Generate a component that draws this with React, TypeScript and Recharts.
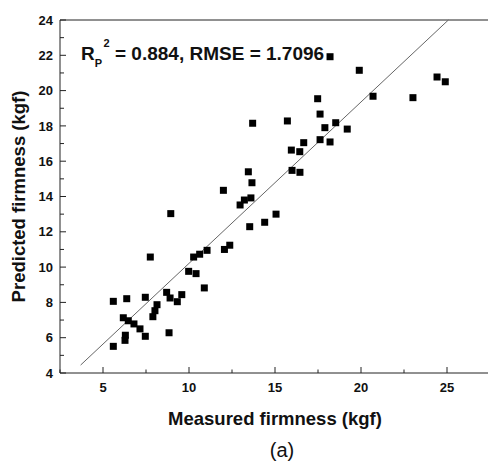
import { ScatterChart, Scatter, XAxis, YAxis, ReferenceLine } from 'recharts';

// measured vs predicted firmness (kgf)
const measured = [
  13.7, 13.45, 13.66, 12.0, 13.6, 13.22, 12.97, 15.06, 14.4, 13.53,
  8.94, 12.37, 12.06, 11.05, 10.62, 10.27, 7.75, 9.98, 10.41, 10.89,
  8.7, 8.9, 9.58, 9.32, 7.46, 6.38, 5.6, 8.14, 8.02, 7.9,
  6.18, 6.47, 6.8, 7.15, 7.46, 6.3, 6.28, 8.84, 5.6,
  18.2, 19.9, 24.42, 24.9, 20.7, 23.02, 17.48, 15.72, 17.62, 17.9,
  18.53, 19.2, 17.62, 18.2, 16.67, 15.95, 16.44, 15.99, 16.45,
];
const predicted = [
  18.15, 15.4, 14.78, 14.35, 13.92, 13.8, 13.52, 13.0, 12.54, 12.29,
  13.03, 11.24, 11.0, 10.95, 10.73, 10.57, 10.57, 9.76, 9.63, 8.82,
  8.57, 8.25, 8.44, 8.04, 8.29, 8.21, 8.06, 7.87, 7.53, 7.19,
  7.13, 6.96, 6.78, 6.5, 6.08, 6.14, 5.85, 6.28, 5.51,
  21.92, 21.15, 20.77, 20.5, 19.68, 19.6, 19.54, 18.28, 18.67, 17.9,
  18.18, 17.82, 17.22, 17.09, 17.05, 16.63, 16.54, 15.48, 15.37,
];

// regression line end points
const fitX = [3.7, 25.08];
const fitY = [4.45, 24];

const xTicks = [2.5, 5, 7.5, 10, 12.5, 15, 17.5, 20, 22.5, 25, 27.5];
const yTicks = [4, 5, 6, 7, 8, 9, 10, 11, 12, 13, 14, 15, 16, 17, 18, 19, 20, 21, 22, 23, 24];

const FONT = '"Liberation Sans", Arial, sans-serif';

const points = measured.map((m, i) => ({ measured: m, predicted: predicted[i] }));

const Square = (props: any) => (
  <rect x={props.cx - 3.5} y={props.cy - 3.5} width={7} height={7} fill="#000" />
);

const XTick = ({ x, y, payload }: any) => {
  const major = payload.value % 5 === 0;
  return (
    <g>
      <line x1={x} y1={y} x2={x} y2={y - (major ? 6 : 3.5)} stroke="#222" />
      {major && (
        <text x={x} y={y + 19} textAnchor="middle" fontSize={13} fontWeight="bold" fontFamily={FONT} fill="#111">
          {payload.value}
        </text>
      )}
    </g>
  );
};

const YTick = ({ x, y, payload }: any) => {
  const major = payload.value % 2 === 0;
  return (
    <g>
      <line x1={x} y1={y} x2={x + (major ? 6 : 4)} y2={y} stroke="#222" />
      {major && (
        <text x={x - 7} y={y} dy="0.36em" textAnchor="end" fontSize={13} fontWeight="bold" fontFamily={FONT} fill="#111">
          {payload.value}
        </text>
      )}
    </g>
  );
};

export default function App() {
  return (
    <div style={{ position: 'absolute', left: 0, top: 0, width: 488, height: 465, overflow: 'hidden', background: '#fff' }}>
      <ScatterChart width={500} height={465} margin={{ top: 20, right: 10, bottom: 62, left: 0 }}>
        <XAxis
          type="number"
          dataKey="measured"
          domain={[2.5, 27.5]}
          ticks={xTicks}
          interval={0}
          tickSize={0}
          tickMargin={0}
          tickLine={false}
          tick={<XTick />}
          height={30}
          axisLine={{ stroke: '#222' }}
          label={{
            value: 'Measured firmness (kgf)',
            position: 'bottom',
            offset: 9,
            style: { fontSize: 18.5, fontWeight: 'bold', fontFamily: FONT, fill: '#111' },
          }}
        />
        <YAxis
          type="number"
          dataKey="predicted"
          domain={[4, 24]}
          ticks={yTicks}
          interval={0}
          tickSize={0}
          tickMargin={0}
          tickLine={false}
          tick={<YTick />}
          width={60}
          axisLine={{ stroke: '#222' }}
          label={{
            value: 'Predicted firmness (kgf)',
            angle: -90,
            position: 'insideLeft',
            offset: 18,
            textAnchor: 'middle',
            style: { fontSize: 18.5, fontWeight: 'bold', fontFamily: FONT, fill: '#111', textAnchor: 'middle' },
          }}
        />
        <ReferenceLine y={24} stroke="#222" />
        <ReferenceLine x={27.5} stroke="#222" />
        <ReferenceLine
          segment={[{ x: fitX[0], y: fitY[0] }, { x: fitX[1], y: fitY[1] }]}
          stroke="#666"
          strokeWidth={1}
        />
        <Scatter data={points} fill="#000" shape={Square} isAnimationActive={false} />
        <text x={81} y={60} fontSize={19} fontWeight="bold" fontFamily={FONT} fill="#111">
          R
          <tspan fontSize={11} dy={6.7}>P</tspan>
          <tspan fontSize={11} dx={1.5} dy={-19.4}>2</tspan>
          <tspan fontSize={19} dy={12.7}>{' = 0.884, RMSE = 1.7096'}</tspan>
        </text>
        <text x={282} y={457} textAnchor="middle" fontSize={20} fontFamily={FONT} fill="#111">
          (a)
        </text>
      </ScatterChart>
    </div>
  );
}
